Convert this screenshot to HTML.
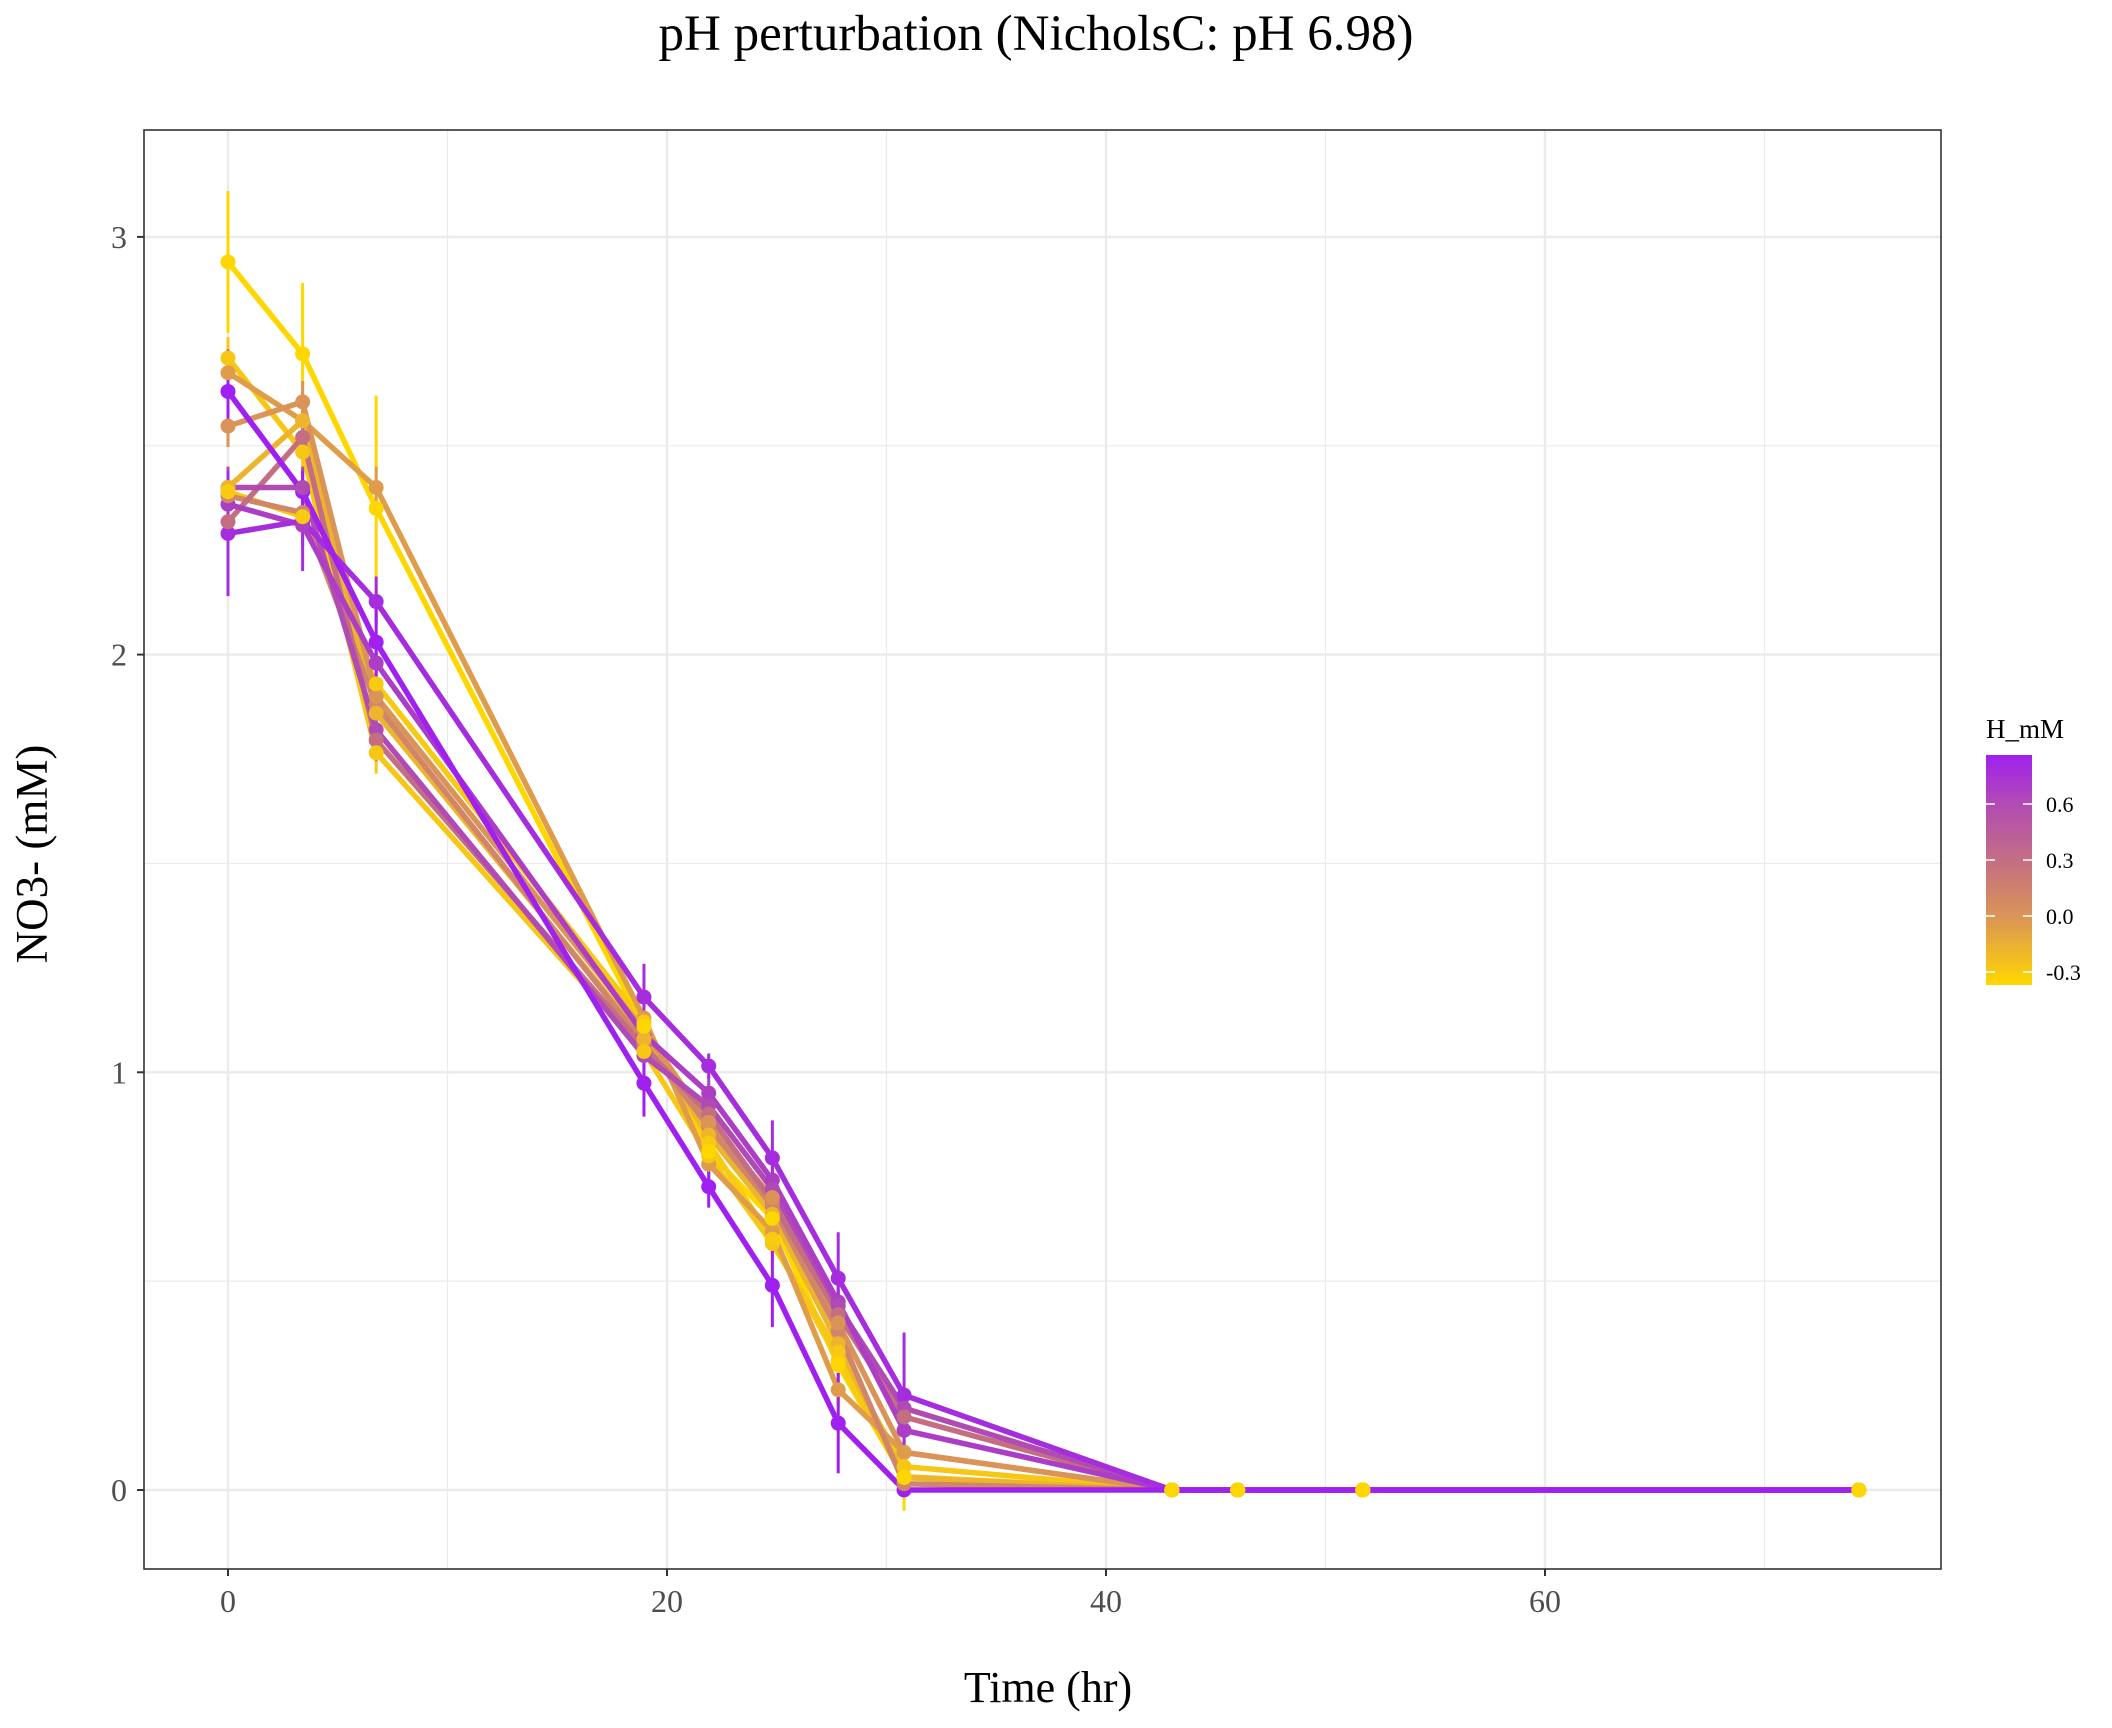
<!DOCTYPE html>
<html><head><meta charset="utf-8"><style>
html,body{margin:0;padding:0;background:#fff;}
svg{display:block;font-family:"Liberation Serif",serif;}
</style></head><body>
<svg id="chart" width="2112" height="1728" viewBox="0 0 2112 1728">
<text x="1036" y="50" font-size="51" text-anchor="middle" fill="#000">pH perturbation (NicholsC: pH 6.98)</text>
<g id="grid"></g>
<g id="series"></g>
<rect x="144" y="130" width="1797" height="1439" fill="none" stroke="#333" stroke-width="1.6"/>
<g id="axes"></g>
<text x="1048" y="1702" font-size="44" text-anchor="middle" fill="#000">Time (hr)</text>
<text x="0" y="0" font-size="45" text-anchor="middle" fill="#000" transform="translate(47,854) rotate(-90)">NO3- (mM)</text>
<g id="legend">
<defs><linearGradient id="lg" x1="0" y1="1" x2="0" y2="0">
<stop offset="0" stop-color="#FFD700"/><stop offset="0.3" stop-color="#DA9458"/><stop offset="0.544" stop-color="#C46E84"/><stop offset="0.789" stop-color="#B14BB4"/><stop offset="1" stop-color="#A020F0"/>
</linearGradient></defs>
<text x="1986" y="738" font-size="27" fill="#000">H_mM</text>
<rect x="1986" y="755" width="46" height="230" fill="url(#lg)"/>
</g>
</svg>
<script>
const times = [0, 3.4, 6.75, 18.95, 21.9, 24.8, 27.8, 30.8, 43, 46, 51.7, 74.3];
const hValues = [-0.37, -0.05, -0.28, 0.86, 0.0, -0.18, 0.3, 0.6, 0.78, 0.68, 0.12, -0.3];
const s1 = [2.94, 2.72, 2.35, 1.11, 0.81, 0.65, 0.30, 0.03, 0, 0, 0, 0];
const s2 = [2.675, 2.56, 2.40, 1.13, 0.78, 0.62, 0.24, 0.09, 0, 0, 0, 0];
const s3 = [2.71, 2.485, 1.765, 1.05, 0.80, 0.59, 0.33, 0.056, 0, 0, 0, 0];
const s4 = [2.63, 2.39, 2.03, 0.974, 0.726, 0.49, 0.16, 0, 0, 0, 0, 0];
const s5 = [2.547, 2.605, 1.90, 1.10, 0.88, 0.70, 0.40, 0.09, 0, 0, 0, 0];
const s6 = [2.40, 2.56, 1.86, 1.08, 0.85, 0.66, 0.35, 0.03, 0, 0, 0, 0];
const s7 = [2.318, 2.52, 1.795, 1.06, 0.90, 0.69, 0.42, 0.175, 0, 0, 0, 0];
const s8 = [2.40, 2.40, 1.82, 1.04, 0.92, 0.72, 0.44, 0.196, 0, 0, 0, 0];
const s9 = [2.29, 2.32, 2.127, 1.18, 1.015, 0.795, 0.507, 0.227, 0, 0, 0, 0];
const s10 = [2.36, 2.31, 1.98, 1.09, 0.95, 0.742, 0.45, 0.143, 0, 0, 0, 0];
const s11 = [2.38, 2.34, 1.88, 1.07, 0.87, 0.68, 0.38, 0.015, 0, 0, 0, 0];
const s12 = [2.39, 2.33, 1.93, 1.12, 0.83, 0.60, 0.31, 0.032, 0, 0, 0, 0];
const e1 = [0.17, 0.17, 0.27, 0.08, 0.10, 0.10, 0.14, 0.08, 0, 0, 0, 0];
const e4 = [0.10, 0.05, 0.10, 0.08, 0.05, 0.10, 0.12, 0, 0, 0, 0, 0];
const e9 = [0.15, 0.12, 0.06, 0.08, 0.03, 0.09, 0.11, 0.15, 0, 0, 0, 0];
const eSmall = [0.05, 0.05, 0.05, 0.04, 0.04, 0.04, 0.04, 0.03, 0, 0, 0, 0];
const seriesVals = [s1, s2, s3, s4, s5, s6, s7, s8, s9, s10, s11, s12];
const seriesErr = [e1, eSmall, eSmall, e4, eSmall, eSmall, eSmall, eSmall, e9, eSmall, eSmall, eSmall];
const xTicks = [0, 20, 40, 60];
const xMinor = [10, 30, 50, 70];
const yTicks = [0, 1, 2, 3];
const yMinor = [0.5, 1.5, 2.5];
const legendTicks = [-0.3, 0.0, 0.3, 0.6];
const legendLabels = ["-0.3", "0.0", "0.3", "0.6"];

const NS = "http://www.w3.org/2000/svg";
const PL = 144, PR = 1941, PT = 130, PB = 1569;
const X = t => 228 + 21.95 * t;
const Y = v => 1490 - 417.7 * v;
const L = h => 916 - (h / 0.3) * 56;
const stops = [[-0.37,[255,215,0]],[0,[218,148,88]],[0.3,[196,110,132]],[0.6,[177,75,180]],[0.86,[160,32,240]]];
function color(h){
  for(let i=0;i<stops.length-1;i++){
    const [a,ca]=stops[i],[b,cb]=stops[i+1];
    if(h<=b||i===stops.length-2){
      const f=Math.max(0,Math.min(1,(h-a)/(b-a)));
      return "rgb("+ca.map((c,k)=>Math.round(c+(cb[k]-c)*f)).join(",")+")";
    }
  }
}
function mk(tag, attrs, parent){
  const el=document.createElementNS(NS,tag);
  for(const k in attrs) el.setAttribute(k,attrs[k]);
  parent.appendChild(el); return el;
}
const grid=document.getElementById("grid");
xMinor.forEach(t=>{const l=mk("line",{x1:X(t),x2:X(t),y1:PT,y2:PB,stroke:"#ebebeb","stroke-width":1.2},grid);

});
yMinor.forEach(v=>{const l=mk("line",{x1:PL,x2:PR,y1:Y(v),y2:Y(v),stroke:"#ebebeb","stroke-width":1.2},grid);

});
xTicks.forEach(t=>{const l=mk("line",{x1:X(t),x2:X(t),y1:PT,y2:PB,stroke:"#ebebeb","stroke-width":2.4},grid);

});
yTicks.forEach(v=>{const l=mk("line",{x1:PL,x2:PR,y1:Y(v),y2:Y(v),stroke:"#ebebeb","stroke-width":2.4},grid);

});

const axes=document.getElementById("axes");
xTicks.forEach(t=>{
  const tk=mk("line",{x1:X(t),x2:X(t),y1:PB,y2:PB+7,stroke:"#333","stroke-width":2},axes);
  
  
  const tx=mk("text",{x:X(t),y:1612,"font-size":32,"text-anchor":"middle",fill:"#4d4d4d"},axes);
  tx.textContent=String(t);
  
  
});
yTicks.forEach(v=>{
  const tk=mk("line",{x1:PL-7,x2:PL,y1:Y(v),y2:Y(v),stroke:"#333","stroke-width":2},axes);
  
  
  const tx=mk("text",{x:127,y:Y(v)+11,"font-size":32,"text-anchor":"end",fill:"#4d4d4d"},axes);
  tx.textContent=String(v);
  
  
});

const sg=document.getElementById("series");
const idx=hValues.map((h,i)=>i);
const lineOrder=idx.slice().sort((a,b)=>hValues[a]-hValues[b]);
lineOrder.forEach(i=>{
  const pts=times.map((t,k)=>X(t)+","+Y(seriesVals[i][k])).join(" ");
  const pl=mk("polyline",{points:pts,fill:"none",stroke:color(hValues[i]),"stroke-width":5.5,"stroke-linejoin":"round"},sg);
  
  
});
lineOrder.forEach(i=>{
  times.forEach((t,k)=>{
    const e=seriesErr[i][k]; if(!e) return;
    const v=seriesVals[i][k];
    const eb=mk("line",{x1:X(t),x2:X(t),y1:Y(v+e),y2:Y(v-e),stroke:color(hValues[i]),"stroke-width":3},sg);
    
    
  });
});
const ptOrder=idx.slice().sort((a,b)=>hValues[b]-hValues[a]);
ptOrder.forEach(i=>{
  times.forEach((t,k)=>{
    const c=mk("circle",{cx:X(t),cy:Y(seriesVals[i][k]),r:7.5,fill:color(hValues[i])},sg);
    
    
  });
});

const lg=document.getElementById("legend");
legendTicks.forEach((h,k)=>{
  const a=mk("line",{x1:1986,x2:1995,y1:L(h),y2:L(h),stroke:"#fff","stroke-width":1.5},lg);
  
  
  const b=mk("line",{x1:2023,x2:2032,y1:L(h),y2:L(h),stroke:"#fff","stroke-width":1.5},lg);
  
  
  const tx=mk("text",{x:2046,y:L(h)+8,"font-size":22,fill:"#000"},lg);
  tx.textContent=legendLabels[k];
  
  
});
</script>
</body></html>
